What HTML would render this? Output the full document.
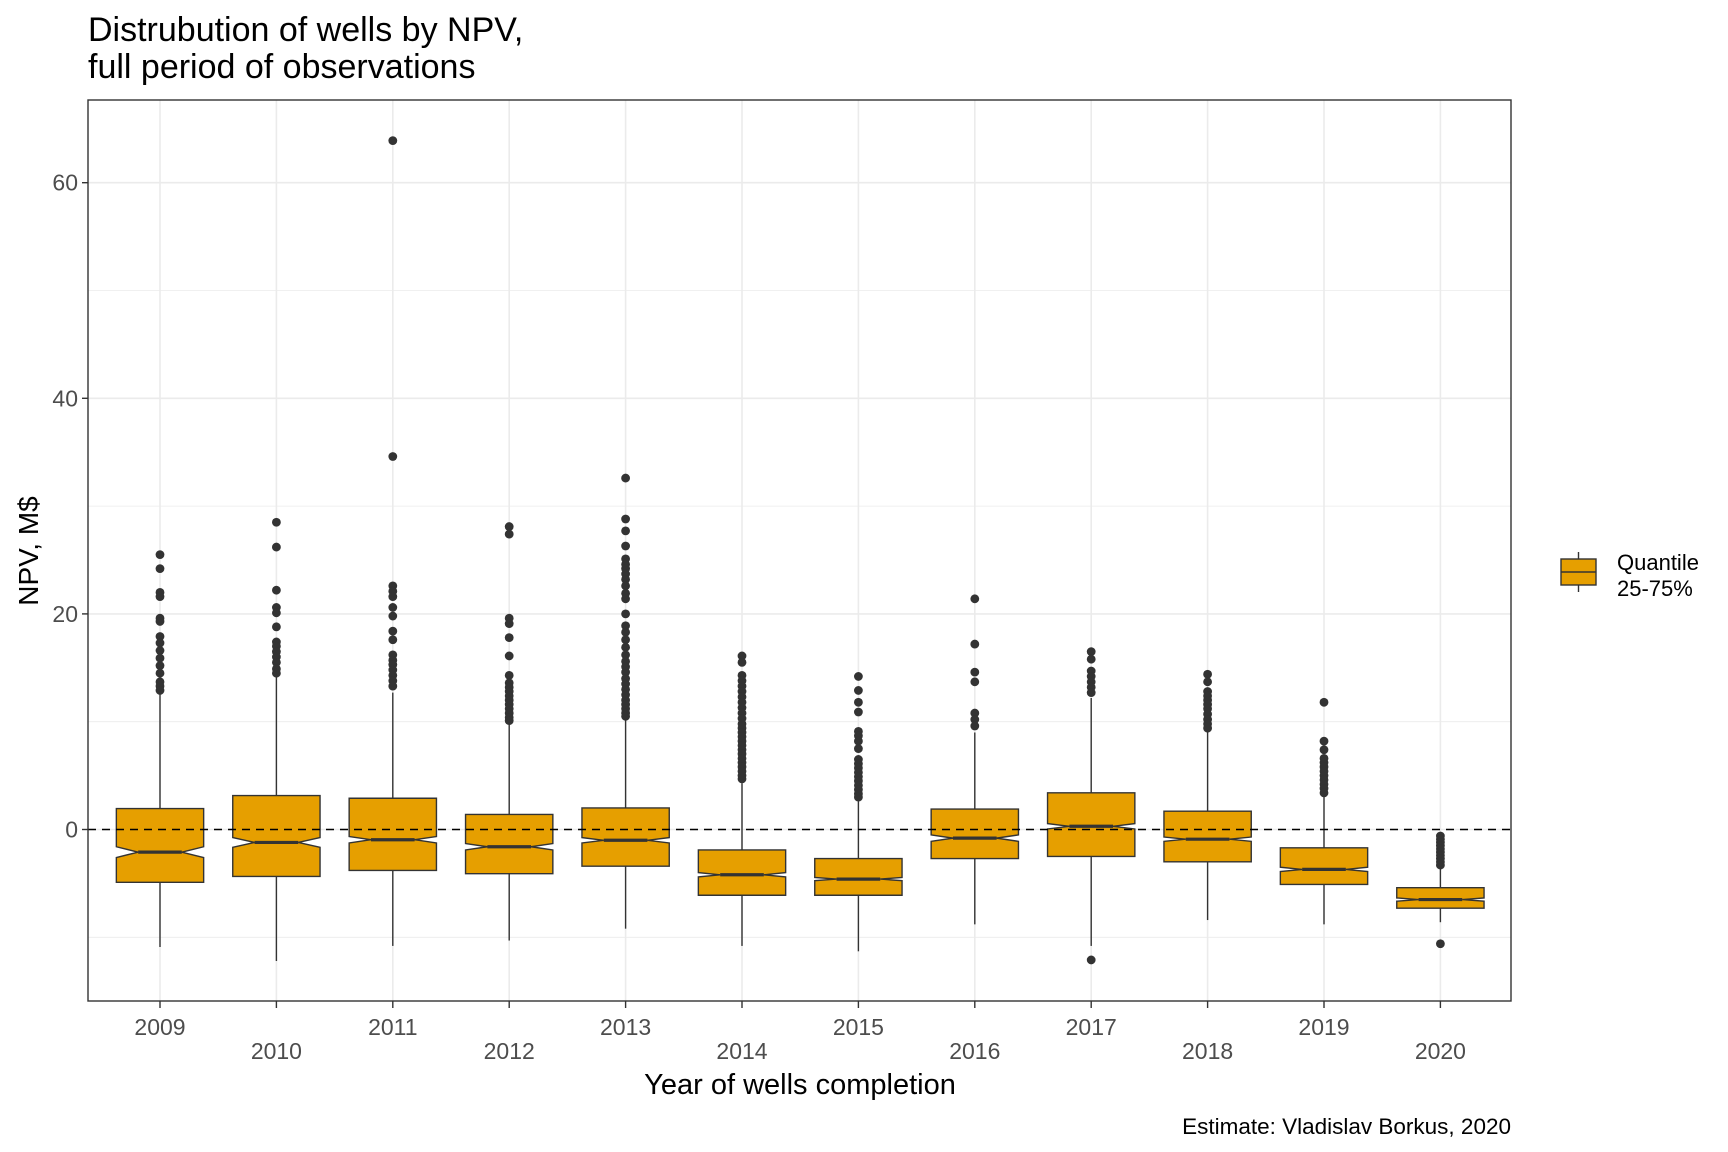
<!DOCTYPE html>
<html><head><meta charset="utf-8"><style>
html,body{margin:0;padding:0;background:#fff}
svg{display:block;font-family:"Liberation Sans",Arial,sans-serif}
</style></head><body>
<svg id="chart" width="1728" height="1152" viewBox="0 0 1728 1152">
<rect x="0" y="0" width="1728" height="1152" fill="#fff"/>
<text x="88" y="41" font-size="34" fill="#000">Distrubution of wells by NPV,</text>
<text x="88" y="78" font-size="34" fill="#000">full period of observations</text>
<g id="grid"></g>
<g id="marks"></g>
<rect x="88" y="100" width="1423" height="901" fill="none" stroke="#333" stroke-width="1.4"/>
<g id="axes"></g>
<text x="800" y="1094" font-size="29" text-anchor="middle" fill="#000">Year of wells completion</text>
<text transform="translate(38,551) rotate(-90)" font-size="28" text-anchor="middle" fill="#000">NPV, M$</text>
<text x="1511" y="1134" font-size="22.5" text-anchor="end" fill="#000">Estimate: Vladislav Borkus, 2020</text>
<g>
<line x1="1578.5" y1="552" x2="1578.5" y2="592" stroke="#333" stroke-width="1.4"/>
<rect x="1561" y="559" width="35" height="26" fill="#E69F00" stroke="#333" stroke-width="1.4"/>
<line x1="1561" y1="572" x2="1596" y2="572" stroke="#333" stroke-width="1.4"/>
<text x="1617" y="570" font-size="22" fill="#000">Quantile</text>
<text x="1617" y="596" font-size="22" fill="#000">25-75%</text>
</g>
</svg>
<script>
const categories = ["2009","2010","2011","2012","2013","2014","2015","2016","2017","2018","2019","2020"];
const q1Values = [-4.9,-4.35,-3.8,-4.1,-3.4,-6.1,-6.1,-2.7,-2.5,-3.0,-5.1,-7.3];
const q3Values = [1.94,3.15,2.9,1.4,2.0,-1.9,-2.7,1.9,3.4,1.7,-1.7,-5.4];
const medianValues = [-2.1,-1.2,-0.95,-1.6,-1.0,-4.2,-4.6,-0.8,0.3,-0.9,-3.7,-6.5];
const notchHalf = [0.5,0.45,0.3,0.3,0.25,0.2,0.15,0.3,0.25,0.2,0.2,0.15];
const whiskerLow = [-10.9,-12.2,-10.8,-10.3,-9.2,-10.8,-11.3,-8.8,-10.8,-8.4,-8.8,-8.6];
const whiskerHigh = [12.8,14.2,12.7,9.8,10.2,4.3,2.6,9.0,12.2,9.0,3.1,-3.5];
const outliers2009 = [25.5,24.2,22,21.6,19.6,19.3,17.9,17.3,16.6,15.9,15.2,14.5,13.7,13.3,12.9];
const outliers2010 = [28.5,26.2,22.2,20.6,20.1,18.8,17.4,17,16.5,16,15.5,14.9,14.5];
const outliers2011 = [63.9,34.6,22.6,22.1,21.6,20.6,19.8,18.4,17.6,16.2,15.7,15.3,14.8,14.3,13.8,13.3];
const outliers2012 = [28.1,27.4,19.6,19.1,17.8,16.1,14.3,13.6,13.2,12.8,12.4,12,11.6,11.2,10.8,10.4,10.1];
const outliers2013 = [32.6,28.8,27.7,26.3,25.1,24.6,24.2,23.7,23.2,22.6,21.9,21.4,20,18.9,18.3,17.6,16.9,16.2,15.6,15.1,14.6,14,13.5,13,12.5,12,11.6,11.2,10.8,10.5];
const outliers2014 = [16.1,15.5,14.3,13.8,13.3,12.8,12.3,11.8,11.3,10.8,10.3,9.8,9.4,9,8.6,8.2,7.8,7.4,7,6.6,6.2,5.8,5.4,5,4.7];
const outliers2015 = [14.2,12.9,11.8,10.9,9.1,8.7,8.2,7.5,6.5,6.1,5.7,5.3,4.9,4.5,4.1,3.7,3.3,3.0];
const outliers2016 = [21.4,17.2,14.6,13.7,10.8,10.2,9.6];
const outliers2017 = [16.5,15.8,14.7,14.2,13.7,13.2,12.7,-12.1];
const outliers2018 = [14.4,13.7,12.8,12.4,12,11.6,11.2,10.7,10.2,9.8,9.4];
const outliers2019 = [11.8,8.2,7.4,6.6,6.2,5.8,5.4,5,4.6,4.2,3.8,3.4];
const outliers2020 = [-0.6,-0.9,-1.2,-1.5,-1.8,-2.1,-2.4,-2.7,-3.0,-3.3,-10.6];
const outlierSets = [outliers2009,outliers2010,outliers2011,outliers2012,outliers2013,outliers2014,outliers2015,outliers2016,outliers2017,outliers2018,outliers2019,outliers2020];
const yMajorTicks = [0,20,40,60];
const yMinorTicks = [-10,10,30,50];
const yTickLabels = ["0","20","40","60"];

const NS = "http://www.w3.org/2000/svg";
const PL = 88, PR = 1511, PT = 100, PB = 1001;
const Y0PX = 829.5, YUNIT = 10.78;
function yScale(v){ return Y0PX - v*YUNIT; }
const X0 = 160, XSTEP = 116.4;
function xScale(i){ return X0 + i*XSTEP; }
function mk(tag, attrs, parent){
  const e = document.createElementNS(NS, tag);
  for (const k in attrs) e.setAttribute(k, attrs[k]);
  parent.appendChild(e);
  return e;
}
const grid = document.getElementById('grid');
const marks = document.getElementById('marks');
const axes = document.getElementById('axes');

yMinorTicks.forEach(v => {
  const l = mk('line', {x1:PL, x2:PR, y1:yScale(v), y2:yScale(v), stroke:'#EBEBEB', 'stroke-width':0.8}, grid);
  
  
});
yMajorTicks.forEach((v,i) => {
  const l = mk('line', {x1:PL, x2:PR, y1:yScale(v), y2:yScale(v), stroke:'#EBEBEB', 'stroke-width':1.6}, grid);
  
  
  const t = mk('line', {x1:PL-6, x2:PL, y1:yScale(v), y2:yScale(v), stroke:'#333', 'stroke-width':1.4}, axes);
  
  
  const tx = mk('text', {x:PL-10, y:yScale(v)+8, 'font-size':23, 'text-anchor':'end', fill:'#4D4D4D'}, axes);
  tx.textContent = yTickLabels[i];
  
  
});
categories.forEach((c,i) => {
  const x = xScale(i);
  const l = mk('line', {x1:x, x2:x, y1:PT, y2:PB, stroke:'#EBEBEB', 'stroke-width':1.6}, grid);
  
  
  const t = mk('line', {x1:x, x2:x, y1:PB, y2:PB+7, stroke:'#333', 'stroke-width':1.4}, axes);
  
  
  const tx = mk('text', {x:x, y:(i%2===0)?1035:1059, 'font-size':23, 'text-anchor':'middle', fill:'#4D4D4D'}, axes);
  tx.textContent = c;
  
  
});

const halfW = XSTEP*0.375;
categories.forEach((c,i) => {
  const x = xScale(i);
  const g = mk('g', {}, marks);
  
  
  const w1 = mk('line', {x1:x, x2:x, y1:yScale(q3Values[i]), y2:yScale(whiskerHigh[i]), stroke:'#333', 'stroke-width':1.4}, g);
  
  
  const w2 = mk('line', {x1:x, x2:x, y1:yScale(q1Values[i]), y2:yScale(whiskerLow[i]), stroke:'#333', 'stroke-width':1.4}, g);
  
  
  const L = x-halfW, R = x+halfW, inset = halfW*0.5;
  const yT = yScale(q3Values[i]), yB = yScale(q1Values[i]), yM = yScale(medianValues[i]);
  const yNU = yScale(Math.min(q3Values[i], medianValues[i]+notchHalf[i]));
  const yNL = yScale(Math.max(q1Values[i], medianValues[i]-notchHalf[i]));
  const d = `M${L},${yT}L${R},${yT}L${R},${yNU}L${R-inset},${yM}L${R},${yNL}L${R},${yB}L${L},${yB}L${L},${yNL}L${L+inset},${yM}L${L},${yNU}Z`;
  const p = mk('path', {d:d, fill:'#E69F00', stroke:'#333', 'stroke-width':1.4}, g);
  
  
  const m = mk('line', {x1:L+inset, x2:R-inset, y1:yM, y2:yM, stroke:'#333', 'stroke-width':3.2}, g);
  
  
  outlierSets[i].forEach(v => {
    const o = mk('circle', {cx:x, cy:yScale(v), r:4.4, fill:'#333'}, g);
    
    
  });
});
const zl = mk('line', {x1:PL, x2:PR, y1:yScale(0), y2:yScale(0), stroke:'#000', 'stroke-width':1.6, 'stroke-dasharray':'8 6'}, marks);


</script>
</body></html>
